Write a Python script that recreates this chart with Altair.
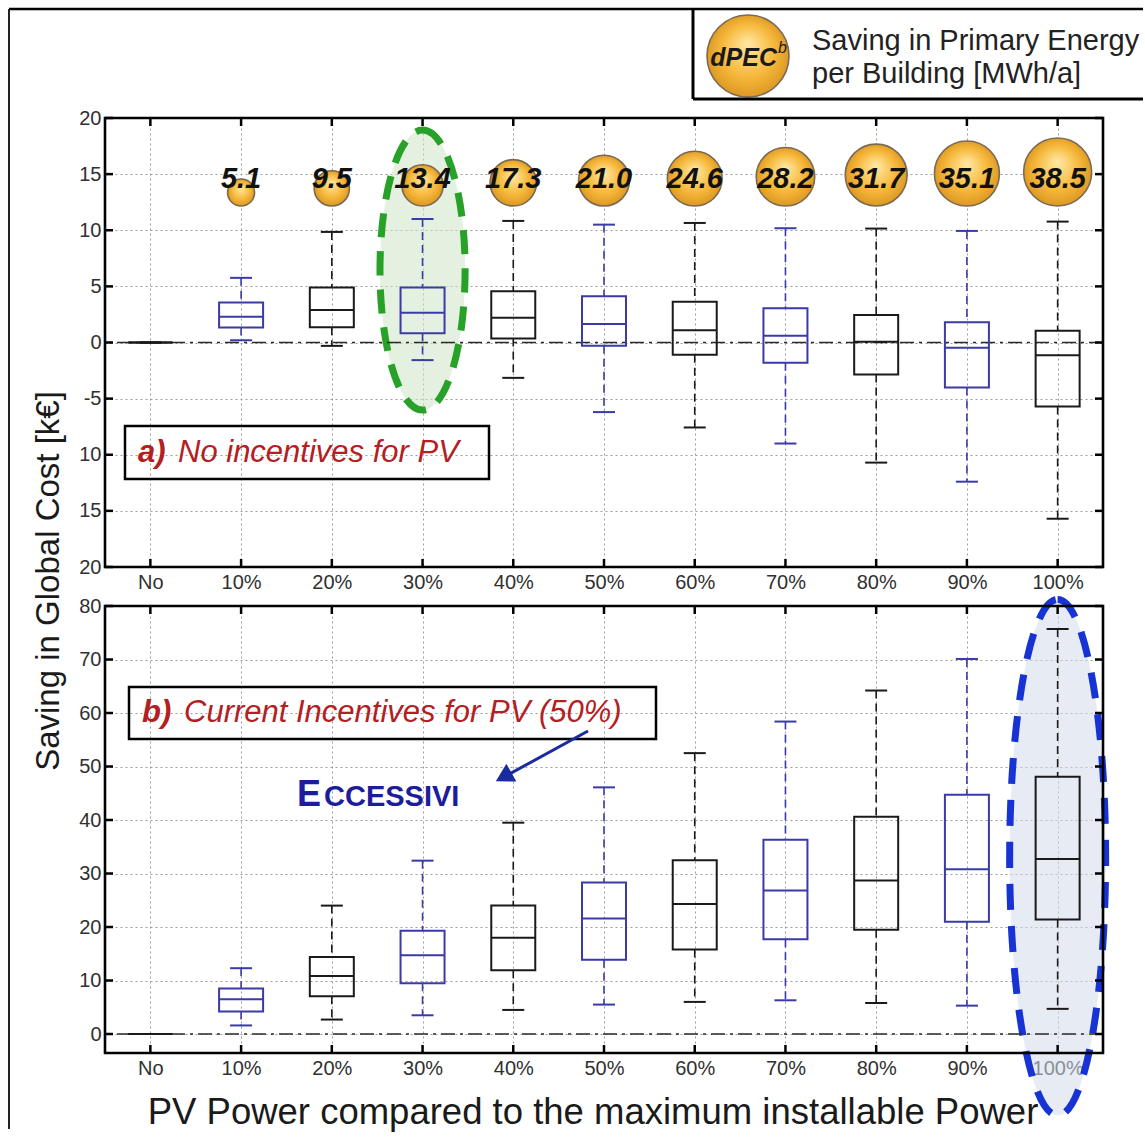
import altair as alt
import pandas as pd
import numpy as np

# ---------------- data ----------------
categories = ["No", "10%", "20%", "30%", "40%", "50%", "60%", "70%", "80%", "90%", "100%"]
dpec_categories = categories[1:]
dpec_values = [5.1, 9.5, 13.4, 17.3, 21.0, 24.6, 28.2, 31.7, 35.1, 38.5]

# panel a) No incentives for PV  (k€)
a_lo  = [0, 0.2, -0.3, -1.57, -3.15, -6.2, -7.57, -9.0, -10.7, -12.4, -15.7]
a_q1  = [0, 1.34, 1.36, 0.83, 0.36, -0.3, -1.1, -1.8, -2.85, -4.0, -5.7]
a_med = [0, 2.3, 2.9, 2.64, 2.2, 1.65, 1.1, 0.6, 0.06, -0.47, -1.13]
a_q3  = [0, 3.56, 4.9, 4.9, 4.57, 4.12, 3.62, 3.06, 2.46, 1.81, 1.04]
a_hi  = [0, 5.76, 9.85, 11.0, 10.83, 10.5, 10.65, 10.18, 10.15, 9.94, 10.77]

# panel b) Current incentives for PV (50%)  (k€)
b_lo  = [0, 1.6, 2.7, 3.5, 4.5, 5.5, 6.0, 6.3, 5.8, 5.3, 4.7]
b_q1  = [0, 4.2, 7.05, 9.5, 11.9, 13.9, 15.8, 17.7, 19.5, 21.0, 21.4]
b_med = [0, 6.5, 10.85, 14.7, 18.0, 21.6, 24.3, 26.8, 28.7, 30.8, 32.7]
b_q3  = [0, 8.5, 14.4, 19.3, 24.0, 28.3, 32.5, 36.3, 40.6, 44.7, 48.1]
b_hi  = [0, 12.3, 24.0, 32.4, 39.5, 46.1, 52.5, 58.4, 64.2, 70.1, 75.7]

top_ticks = [20, 15, 10, 5, 0, -5, -10, -15, -20]
bottom_ticks = [0, 10, 20, 30, 40, 50, 60, 70, 80]

# annotation anchors (data coordinates)
green_ellipse = {"cat": "30%", "y": 6.45}
blue_ellipse = {"cat": "100%", "y": 33.0}

# ---------------- styling ----------------
W = 998
H_TOP = 449
H_BOT = 447
TOP_DOMAIN = [-20, 20]
BOT_DOMAIN = [-3.55, 80]
FONT = "Liberation Sans"
BLUE = "#3a3aa8"
BLACK = "#1a1a1a"
RED = "#b3201f"
NAVY = "#1c1c9c"
GOLD = {"gradient": "radial", "x1": 0.5, "y1": 0.35, "r1": 0.02,
        "x2": 0.5, "y2": 0.5, "r2": 0.56,
        "stops": [{"offset": 0, "color": "#ffe6a0"},
                  {"offset": 0.55, "color": "#f6b93c"},
                  {"offset": 1, "color": "#d8901c"}]}
S0, S1 = 729, 4624          # circle size range
CIRCLE_BASE = 12.16         # circles sit on this level
LABEL_Y = 14.6

k = 0.5523


def ellipse_path(a):
    return (f"M 0 -1 C {k*a:.4f} -1 {a} {-k:.4f} {a} 0 "
            f"C {a} {k:.4f} {k*a:.4f} 1 0 1 "
            f"C {-k*a:.4f} 1 {-a} {k:.4f} {-a} 0 "
            f"C {-a} {-k:.4f} {-k*a:.4f} -1 0 -1 Z")


one = pd.DataFrame({"k": [0]})
xscale = alt.Scale(type="point", domain=categories, padding=0.5)
xaxis = alt.Axis(grid=True, ticks=False, domain=False, labelFont=FONT, labelFontSize=20,
                 labelColor="#303030", labelPadding=5, labelAngle=0,
                 gridColor="#9c9c9c", gridDash=[2, 3], gridWidth=1, title=None)
cscale = alt.Scale(domain=["odd", "even"], range=[BLUE, BLACK])


def X():
    return alt.X("cat:N", scale=xscale, axis=xaxis, title=None)


def make_yaxis(ticks, expr=None):
    kw = dict(values=ticks, grid=True, ticks=False, domain=False, labelFont=FONT,
              labelFontSize=20, labelColor="#303030", labelPadding=4,
              gridColor="#9c9c9c", gridDash=[2, 3], gridWidth=1, title=None)
    if expr:
        kw["labelExpr"] = expr
    return alt.Axis(**kw)


def box_df(lo, q1, med, q3, hi):
    df = pd.DataFrame({"cat": categories, "idx": range(len(categories)),
                       "lo": lo, "q1": q1, "med": med, "q3": q3, "hi": hi})
    df["grp"] = np.where(df["idx"] % 2 == 1, "odd", "even")
    return df


def txt(s, x, y, **kw):
    return alt.Chart(one).mark_text(text=s, **kw).encode(x=alt.value(x), y=alt.value(y))


def seg(x1, y1, x2, y2, **kw):
    return alt.Chart(one).mark_rule(**kw).encode(
        x=alt.value(x1), y=alt.value(y1), x2=alt.value(x2), y2=alt.value(y2))


def panel(df, ydom, yticks, H, yaxis, ell, ell_ratio, ell_half_h, ell_fill, ell_stroke, ell_dash):
    ysc = alt.Scale(domain=ydom, nice=False, zero=False)

    def Y(field):
        return alt.Y(field, type="quantitative", scale=ysc, axis=yaxis, title=None)

    base = alt.Chart(df)
    stroke = alt.Stroke("grp:N", scale=cscale, legend=None)
    color = alt.Color("grp:N", scale=cscale, legend=None)

    ellipse = alt.Chart(pd.DataFrame([ell])).mark_point(
        shape=ellipse_path(ell_ratio), size=(2 * ell_half_h) ** 2, filled=True,
        fill=ell_fill, fillOpacity=0.55, stroke=ell_stroke, strokeWidth=7,
        strokeDash=ell_dash, strokeOpacity=1, opacity=1
    ).encode(x=X(), y=Y("y"))

    zero = alt.Chart(one).mark_rule(strokeDash=[14, 5, 3, 5], color="#2a2a2a", strokeWidth=1.5).encode(
        y=alt.Y(datum=0, type="quantitative", scale=ysc, axis=yaxis, title=None))

    wh_hi = base.mark_rule(strokeDash=[8, 5], strokeWidth=1.6).encode(x=X(), y=Y("hi"), y2="q3", stroke=stroke)
    wh_lo = base.mark_rule(strokeDash=[8, 5], strokeWidth=1.6).encode(x=X(), y=Y("q1"), y2="lo", stroke=stroke)
    box = base.mark_bar(size=44, fill="white", fillOpacity=0, strokeWidth=2).encode(
        x=X(), y=Y("q1"), y2="q3", stroke=stroke)
    med = base.mark_tick(orient="horizontal", size=44, thickness=2, opacity=1).encode(x=X(), y=Y("med"), color=color)
    cap_hi = base.mark_tick(orient="horizontal", size=22, thickness=2, opacity=1).encode(x=X(), y=Y("hi"), color=color)
    cap_lo = base.mark_tick(orient="horizontal", size=22, thickness=2, opacity=1).encode(x=X(), y=Y("lo"), color=color)

    catdf = alt.Chart(pd.DataFrame({"cat": categories}))
    tdf = alt.Chart(pd.DataFrame({"v": yticks}))
    tk = dict(color="black", strokeWidth=2.5)
    t1 = catdf.mark_rule(**tk).encode(x=X(), y=alt.value(0), y2=alt.value(8))
    t2 = catdf.mark_rule(**tk).encode(x=X(), y=alt.value(H), y2=alt.value(H - 8))
    t3 = tdf.mark_rule(**tk).encode(y=Y("v"), x=alt.value(0), x2=alt.value(8))
    t4 = tdf.mark_rule(**tk).encode(y=Y("v"), x=alt.value(W), x2=alt.value(W - 8))
    frame = alt.Chart(one).mark_rect(fill="white", fillOpacity=0, stroke="black", strokeWidth=2.6).encode(
        x=alt.value(0), x2=alt.value(W), y=alt.value(0), y2=alt.value(H))

    return [ellipse, zero, wh_hi, wh_lo, box, med, cap_hi, cap_lo, t1, t2, t3, t4, frame], Y


# ---------------- top panel ----------------
top_expr = ("datum.value <= -10 ? '' + abs(datum.value) : "
            "(datum.value < 0 ? '-' + abs(datum.value) : '' + datum.value)")
top_layers, Ytop = panel(box_df(a_lo, a_q1, a_med, a_q3, a_hi), TOP_DOMAIN, top_ticks, H_TOP,
                         make_yaxis(top_ticks, top_expr), green_ellipse, 0.304, 140,
                         "#cfe6c6", "#27a127", [24, 14])

circ = pd.DataFrame({"cat": dpec_categories, "dpec": dpec_values})
vmin, vmax = min(dpec_values), max(dpec_values)
diam = np.sqrt(S0 + (circ["dpec"] - vmin) / (vmax - vmin) * (S1 - S0))
px_per_unit = H_TOP / (TOP_DOMAIN[1] - TOP_DOMAIN[0])
circ["cy"] = CIRCLE_BASE + diam / 2 / px_per_unit

circles = alt.Chart(circ).mark_point(shape="circle", filled=True, fill=GOLD, stroke="#7a6a52",
                                     strokeWidth=1.6, opacity=1).encode(
    x=X(), y=Ytop("cy"),
    size=alt.Size("dpec:Q", scale=alt.Scale(domain=[vmin, vmax], range=[S0, S1], zero=False), legend=None))
circle_text = alt.Chart(circ).mark_text(font=FONT, fontSize=29, fontWeight="bold", fontStyle="italic",
                                         color="#111111", baseline="middle").encode(
    x=X(), y=alt.Y(datum=LABEL_Y, type="quantitative", scale=alt.Scale(domain=TOP_DOMAIN, nice=False, zero=False),
                   axis=make_yaxis(top_ticks, top_expr), title=None),
    text=alt.Text("dpec:Q", format=".1f"))

a_box = alt.Chart(one).mark_rect(fill="white", fillOpacity=0, stroke="black", strokeWidth=2.5).encode(
    x=alt.value(20), x2=alt.value(384), y=alt.value(308), y2=alt.value(361))
a_t1 = txt("a)", 33, 335, align="left", baseline="middle", font=FONT, fontSize=31,
           fontStyle="italic", fontWeight="bold", color=RED)
a_t2 = txt("No incentives for PV", 73, 335, align="left", baseline="middle", font=FONT, fontSize=31,
           fontStyle="italic", color=RED)

# legend (top right) and figure frame
leg_circle = alt.Chart(one).mark_point(shape="circle", filled=True, fill=GOLD, stroke="#7a6a52",
                                       strokeWidth=1.6, opacity=1, size=6724).encode(
    x=alt.value(643), y=alt.value(-62))
leg_t1 = txt("dPEC", 672, -60, align="right", baseline="middle", font=FONT, fontSize=25,
             fontStyle="italic", fontWeight="bold", color="#1a1a1a")
leg_t2 = txt("b", 673, -70, align="left", baseline="middle", font=FONT, fontSize=16,
             fontStyle="italic", color="#1a1a1a")
leg_t3 = txt("Saving in Primary Energy", 707, -77, align="left", baseline="middle", font=FONT,
             fontSize=29, color="#222222")
leg_t4 = txt("per Building [MWh/a]", 707, -44, align="left", baseline="middle", font=FONT,
             fontSize=29, color="#222222")
leg_l = seg(588, -109, 588, -19, color="black", strokeWidth=3)
leg_b = seg(588, -19, 1038, -19, color="black", strokeWidth=3)
frame_top = seg(-96, -109, 1038, -109, color="black", strokeWidth=2.5)
frame_left = seg(-96, -109, -96, 1011, color="#222222", strokeWidth=2)
y_title = txt("Saving in Global Cost [k€]", -56, 463, align="center", baseline="middle", angle=270,
              font=FONT, fontSize=33, color="#1a1a1a")

top = alt.layer(*top_layers, circles, circle_text, a_box, a_t1, a_t2,
                leg_circle, leg_t1, leg_t2, leg_t3, leg_t4, leg_l, leg_b,
                frame_top, frame_left, y_title).properties(width=W, height=H_TOP)

# ---------------- bottom panel ----------------
bot_layers, Ybot = panel(box_df(b_lo, b_q1, b_med, b_q3, b_hi), BOT_DOMAIN, bottom_ticks, H_BOT,
                         make_yaxis(bottom_ticks), blue_ellipse, 0.186, 258,
                         "#d3daea", "#1733d4", [26, 16])

b_box = alt.Chart(one).mark_rect(fill="white", fillOpacity=0, stroke="black", strokeWidth=2.5).encode(
    x=alt.value(24), x2=alt.value(551), y=alt.value(81), y2=alt.value(133))
b_t1 = txt("b)", 37, 107, align="left", baseline="middle", font=FONT, fontSize=31,
           fontStyle="italic", fontWeight="bold", color=RED)
b_t2 = txt("Current Incentives for PV (50%)", 79, 107, align="left", baseline="middle", font=FONT,
           fontSize=31, fontStyle="italic", color=RED)
arrow_line = seg(483, 125, 399, 171, color="#1a2aa0", strokeWidth=3)
arrow_head = alt.Chart(one).mark_point(shape="triangle-up", filled=True, fill="#1a2aa0", opacity=1,
                                       size=420, angle=241, strokeWidth=0).encode(
    x=alt.value(398.6), y=alt.value(170.9))
ecc1 = txt("E", 192, 200, align="left", baseline="alphabetic", font=FONT, fontSize=36,
           fontWeight="bold", color=NAVY)
ecc2 = txt("CCESSIVI", 219, 200, align="left", baseline="alphabetic", font=FONT, fontSize=29,
           fontWeight="bold", color=NAVY)
x_title = txt("PV Power compared to the maximum installable Power", 488, 507, align="center",
              baseline="middle", font=FONT, fontSize=36.5, color="#1a1a1a")

bottom = alt.layer(*bot_layers, b_box, b_t1, b_t2, arrow_line, arrow_head, ecc1, ecc2,
                   x_title).properties(width=W, height=H_BOT)

chart = alt.vconcat(top, bottom, spacing=39, bounds="flush").properties(
    padding={"left": 7, "top": 7, "right": 0, "bottom": 0}
).configure_view(strokeWidth=0).configure(background="white")

chart.save("out.html", embed_options={"renderer": "svg", "actions": False})
